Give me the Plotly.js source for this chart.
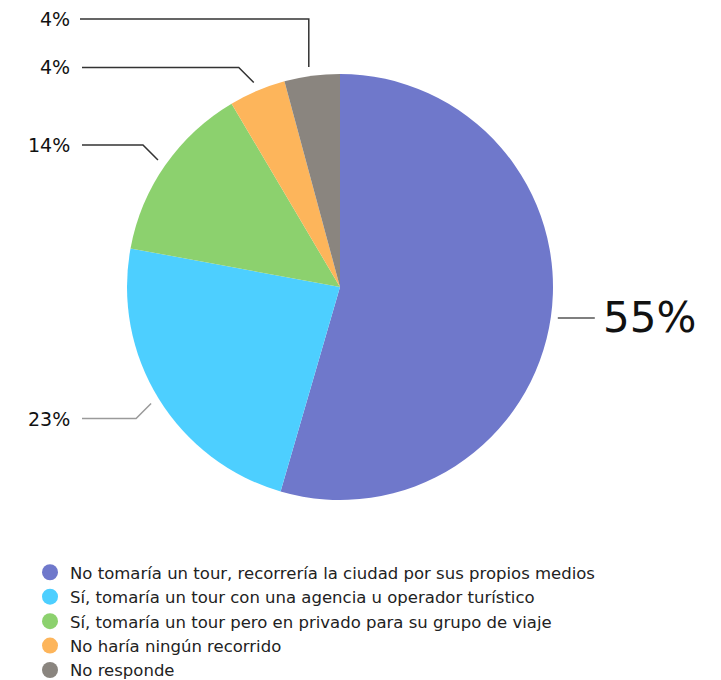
<!DOCTYPE html>
<html>
<head>
<meta charset="utf-8">
<script src="https://cdn.plot.ly/plotly-3.0.1.min.js"></script>
<style>html,body{margin:0;padding:0;background:#fff;}#chart{width:721px;height:680px;}</style>
</head>
<body>
<div id="chart"></div>
<script>
// ---- data ----
const categories = [
  "No tomaría un tour, recorrería la ciudad por sus propios medios",
  "Sí, tomaría un tour con una agencia u operador turístico",
  "Sí, tomaría un tour pero en privado para su grupo de viaje",
  "No haría ningún recorrido",
  "No responde"
];
const values = [54.5, 23.4, 13.6, 4.3, 4.2];
const percentLabels = values.map(v => Math.round(v) + "%");

// ---- styles ----
const colors = ["#6f78cb", "#4dcfff", "#8cd16e", "#fdb55b", "#8a857f"];
const leaderModes = ["right", "elbow", "elbow", "elbow", "vertical"];
const leaderColors = ["#555555", "#9a9a9a", "#333333", "#333333", "#333333"];
const labelSizes = [42, 19, 19, 19, 19];

const W = 721, H = 680;
const cx = 340, cy = 287, R = 213;
const FONT = "DejaVu Sans, sans-serif";

const px = x => x / W;
const py = y => 1 - y / H;

const total = values.reduce((a, b) => a + b, 0);
const shapes = [];
const annotations = [];
let cum = 0;
values.forEach((v, i) => {
  const theta = 2 * Math.PI * (cum + v / 2) / total;
  cum += v;
  const s = Math.sin(theta), c = Math.cos(theta);
  const mode = leaderModes[i];
  let pts, lx, ly, anchor;
  if (mode === "right") {
    const P = [cx + (R + 7) * s, cy - (R + 7) * c];
    const Q = [P[0] + 37, P[1]];
    pts = [P, Q];
    lx = Q[0] + 6; ly = Q[1]; anchor = "left";
  } else if (mode === "elbow") {
    const P = [cx + (R + 9) * s, cy - (R + 9) * c];
    const E = [P[0] + 15 * Math.sign(s), P[1] - 15 * Math.sign(c)];
    const Q = [82, E[1]];
    pts = [P, E, Q];
    lx = 72; ly = E[1]; anchor = "right";
  } else {
    const P = [cx + (R + 9) * s, cy - (R + 9) * c];
    const E = [P[0] - 2, 19];
    const Q = [80, 19];
    pts = [[P[0] - 2, P[1]], E, Q];
    lx = 72; ly = 19; anchor = "right";
  }
  const path = pts.map((p, k) => (k ? "L" : "M") + px(p[0]).toFixed(5) + "," + py(p[1]).toFixed(5)).join(" ");
  shapes.push({type: "path", xref: "paper", yref: "paper", path: path,
    line: {color: leaderColors[i], width: 1.5}});
  annotations.push({xref: "paper", yref: "paper", x: px(lx), y: py(ly),
    xanchor: anchor, yanchor: "middle", showarrow: false, text: percentLabels[i],
    font: {family: FONT, size: labelSizes[i], color: "#111111"}});
});

const pieTrace = {
  type: "pie",
  values: values,
  labels: categories,
  sort: false,
  direction: "clockwise",
  rotation: 0,
  textinfo: "none",
  hoverinfo: "label+percent",
  showlegend: false,
  marker: {colors: colors, line: {width: 0}},
  domain: {x: [(cx - R) / W, (cx + R) / W], y: [1 - (cy + R) / H, 1 - (cy - R) / H]}
};

const legendTraces = categories.map((name, i) => ({
  type: "scatter", mode: "markers", x: [null], y: [null], name: name,
  marker: {color: colors[i], size: 16, symbol: "circle"}, hoverinfo: "skip"
}));

const layout = {
  width: W, height: H,
  margin: {l: 0, r: 0, t: 0, b: 0, autoexpand: false},
  paper_bgcolor: "#ffffff", plot_bgcolor: "#ffffff",
  xaxis: {visible: false}, yaxis: {visible: false},
  showlegend: true,
  legend: {x: px(30), y: py(555), xanchor: "left", yanchor: "top",
    font: {family: FONT, size: 16.5, color: "#222222"}, bgcolor: "rgba(0,0,0,0)",
    traceorder: "normal", itemwidth: 30},
  shapes: shapes,
  annotations: annotations
};

Plotly.newPlot("chart", [pieTrace].concat(legendTraces), layout, {displayModeBar: false, staticPlot: true});
</script>
</body>
</html>
